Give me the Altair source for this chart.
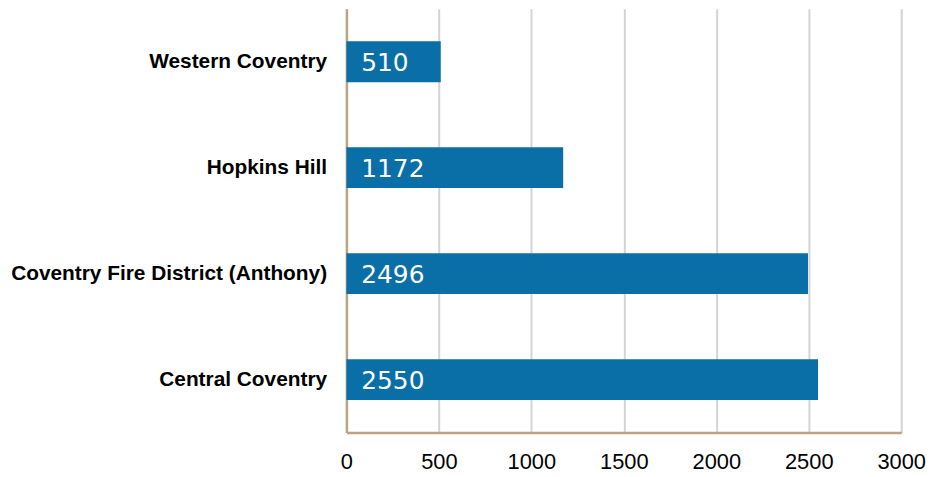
import altair as alt
import pandas as pd

categories = ["Western Coventry", "Hopkins Hill", "Coventry Fire District (Anthony)", "Central Coventry"]
values = [510, 1172, 2496, 2550]
x_ticks = [0, 500, 1000, 1500, 2000, 2500, 3000]

df = pd.DataFrame({"district": categories, "count": values})

axis_color = "#BFA286"
bar_color = "#0A6FA6"

y_enc = alt.Y(
    "district:N",
    sort=categories,
    scale=alt.Scale(paddingInner=0.615, paddingOuter=0.3075),
    axis=alt.Axis(
        title=None,
        domainColor=axis_color,
        domainWidth=2.5,
        ticks=False,
        labelFont="Liberation Sans",
        labelFontWeight="bold",
        labelFontSize=21,
        labelColor="#000000",
        labelPadding=20,
        labelLimit=400,
        grid=False,
    ),
)

bars = alt.Chart(df).mark_bar(color=bar_color).encode(
    x=alt.X(
        "count:Q",
        scale=alt.Scale(domain=[0, 3000], nice=False),
        axis=alt.Axis(
            title=None,
            values=x_ticks,
            format="d",
            grid=True,
            gridColor="#D4D4D4",
            gridWidth=2,
            domainColor=axis_color,
            domainWidth=2.5,
            ticks=False,
            labelFont="Liberation Sans",
            labelFontSize=22,
            labelColor="#000000",
            labelPadding=19,
            labelFlush=False,
        ),
    ),
    y=y_enc,
)

labels = alt.Chart(df).mark_text(
    align="left", baseline="middle", dx=15, dy=1, color="white",
    font="DejaVu Sans", fontSize=25
).encode(
    x=alt.datum(0),
    y=alt.Y("district:N", sort=categories),
    text=alt.Text("count:Q"),
)

chart = (
    alt.layer(bars, labels)
    .properties(
        width=559,
        height=427,
        autosize=alt.AutoSizeParams(type="none"),
        padding={"left": 341, "top": -1, "right": 30, "bottom": 44},
    )
    .configure_view(stroke=None)
)

chart.save("out.html", embed_options={"renderer": "svg", "actions": False})
